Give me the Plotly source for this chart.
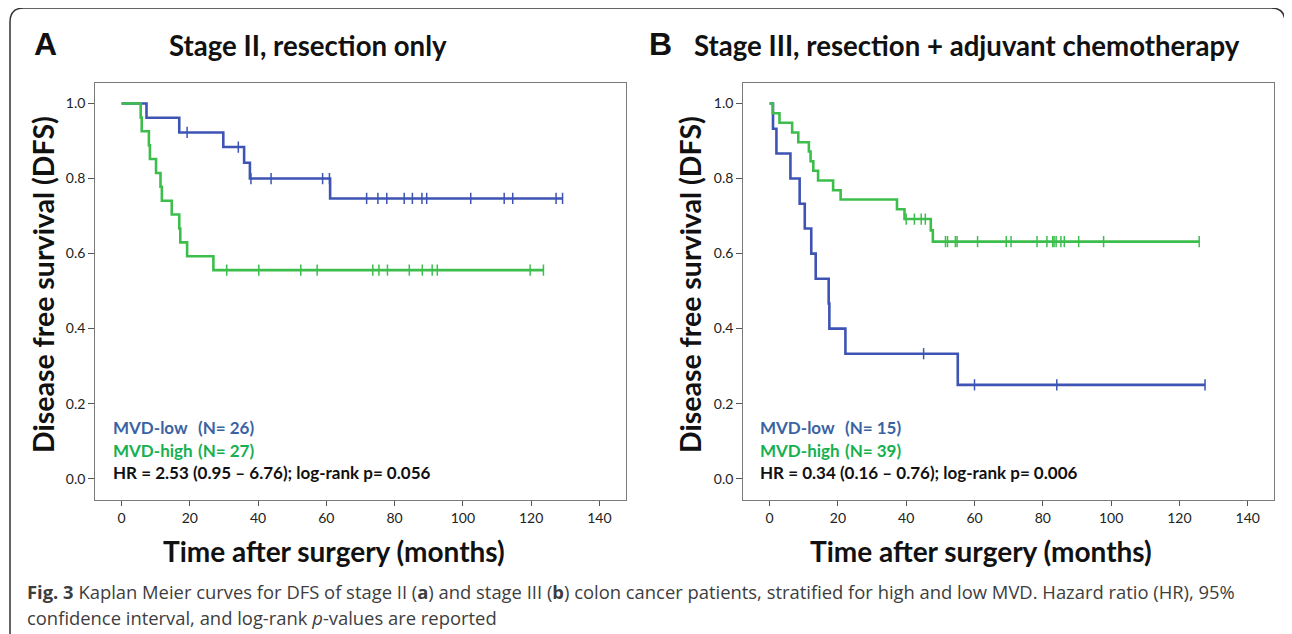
import numpy as np
import plotly.graph_objects as go

# page has an 8px body margin; figure is sized to fit inside the window
OFF = 8
W, H = 1280, 626

# ---------------- data ----------------
# Panel A: Stage II, resection only
A_low_t = [0, 7.3, 16.9, 29.8, 35.9, 37.6, 61.1, 129.2]
A_low_s = [1.0, 0.962, 0.923, 0.884, 0.842, 0.800, 0.747, 0.747]
A_low_cens = [19.2, 34.2, 37.9, 43.8, 58.9, 60.9, 71.8, 75.1, 77.7, 82.8, 85.2,
              88.0, 89.4, 102.3, 112.1, 114.6, 127.3, 129.2]

A_high_t = [0, 5.6, 5.9, 8.0, 8.3, 10.1, 11.4, 11.8, 14.7, 16.9, 17.2, 19.2, 26.9, 123.6]
A_high_s = [1.0, 0.963, 0.926, 0.889, 0.852, 0.815, 0.778, 0.741, 0.704, 0.667,
            0.630, 0.593, 0.556, 0.556]
A_high_cens = [30.8, 40.2, 52.5, 57.3, 73.6, 75.4, 77.9, 84.3, 88.1, 91.0, 92.5,
               119.7, 123.6]

# Panel B: Stage III, resection + adjuvant chemotherapy
B_low_t = [0, 1.0, 2.0, 6.1, 8.8, 10.3, 12.2, 13.5, 17.3, 17.5, 22.2, 55.1, 127.5]
B_low_s = [1.0, 0.933, 0.867, 0.800, 0.733, 0.667, 0.600, 0.533, 0.467, 0.400,
           0.333, 0.250, 0.250]
B_low_cens = [45.1, 60.0, 84.1, 127.5]

B_high_t = [0, 0.9, 2.9, 6.6, 8.4, 11.5, 12.0, 12.8, 14.2, 18.6, 20.8, 37.3, 39.5,
            47.2, 47.8, 125.8]
B_high_s = [1.0, 0.974, 0.949, 0.923, 0.897, 0.872, 0.846, 0.821, 0.795, 0.769,
            0.744, 0.718, 0.692, 0.662, 0.632, 0.632]
B_high_cens = [40.0, 42.4, 44.4, 45.6, 51.5, 52.1, 54.4, 54.9, 60.9, 69.3, 70.7,
               78.3, 81.2, 82.9, 83.3, 83.9, 85.3, 86.3, 90.5, 97.8, 125.8]

x_ticks = [0, 20, 40, 60, 80, 100, 120, 140]
y_ticks = [0.0, 0.2, 0.4, 0.6, 0.8, 1.0]

titles = ["Stage II, resection only", "Stage III, resection + adjuvant chemotherapy"]
letters = ["A", "B"]
legend_low = [("MVD-low", "(N= 26)"), ("MVD-low", "(N= 15)")]
legend_high = [("MVD-high", "(N= 27)"), ("MVD-high", "(N= 39)")]
hr_text = ["HR = 2.53 (0.95 – 6.76); log-rank p= 0.056",
           "HR = 0.34 (0.16 – 0.76); log-rank p= 0.006"]
caption1 = ("<b>Fig. 3</b> Kaplan Meier curves for DFS of stage II (<b>a</b>) and stage III "
            "(<b>b</b>) colon cancer patients, stratified for high and low MVD. Hazard ratio (HR), 95%")
caption2 = "confidence interval, and log-rank <i>p</i>-values are reported"

# ---------------- styling ----------------
BLUE = "#3E54B4"
GREEN = "#3DBE4C"
BLUE_TXT = "#3B63A3"
GREEN_TXT = "#16B050"
FONT = "Lato, Carlito, Calibri, sans-serif"


def fx(px):
    return (px - OFF) / W


def fy(py):
    return 1 - (py - OFF) / H


def step_eval(t, s, q):
    t = np.asarray(t)
    s = np.asarray(s)
    idx = np.searchsorted(t, np.asarray(q), side="right") - 1
    return s[np.clip(idx, 0, len(s) - 1)]


fig = go.Figure()

panels = [
    dict(xa="x", ya="y", curves=[(A_low_t, A_low_s, A_low_cens, BLUE),
                                 (A_high_t, A_high_s, A_high_cens, GREEN)]),
    dict(xa="x2", ya="y2", curves=[(B_low_t, B_low_s, B_low_cens, BLUE),
                                   (B_high_t, B_high_s, B_high_cens, GREEN)]),
]

for p in panels:
    for t, s, c, col in p["curves"]:
        fig.add_trace(go.Scatter(x=t, y=s, mode="lines", line_shape="hv",
                                 line=dict(color=col, width=2.6),
                                 xaxis=p["xa"], yaxis=p["ya"], showlegend=False,
                                 hoverinfo="skip"))
        fig.add_trace(go.Scatter(x=c, y=step_eval(t, s, c), mode="markers",
                                 marker=dict(symbol="line-ns", size=8,
                                             line=dict(color=col, width=1.5)),
                                 xaxis=p["xa"], yaxis=p["ya"], showlegend=False,
                                 hoverinfo="skip"))

# plot box pixel geometry (window pixels)
boxes = [(95.3, 625.7), (743.3, 1274.0)]
box_top, box_bot = 83.3, 500.0
xr = [-7.7, 147.7]
yr = [-0.057, 1.054]

axis_common = dict(showline=True, mirror=True, linecolor="#7a7a7a", linewidth=1.2,
                   ticks="outside", ticklen=5, tickwidth=1, tickcolor="#555",
                   showgrid=False, zeroline=False,
                   tickfont=dict(family=FONT, size=14, color="#222"))

layout_axes = {}
for i, (l, r) in enumerate(boxes):
    sfx = "" if i == 0 else str(i + 1)
    layout_axes["xaxis" + sfx] = dict(axis_common, domain=[fx(l), fx(r)], range=xr,
                                      tickvals=x_ticks, anchor="y" + sfx)
    layout_axes["yaxis" + sfx] = dict(axis_common, domain=[fy(box_bot), fy(box_top)],
                                      range=yr, tickvals=y_ticks, tickformat=".1f",
                                      anchor="x" + sfx, ticklen=6)

annotations = []


def ann(text, x, y, size, color="#111", xanchor="center", family=FONT, angle=0):
    annotations.append(dict(text=text, x=fx(x), y=fy(y), xref="paper", yref="paper",
                            showarrow=False, xanchor=xanchor, yanchor="middle",
                            textangle=angle,
                            font=dict(family=family, size=size, color=color)))


letter_x = [45, 660]
title_x = [308, 967]
ytitle_x = [43, 690]
xtitle_x = [334, 981]
legend_x = [111, 758]
legend_n_dx = 84.5

for i in range(2):
    ann("<b>" + letters[i] + "</b>", letter_x[i], 44, 32,
        family="Liberation Sans, Arial, sans-serif")
    ann("<b>" + titles[i] + "</b>", title_x[i], 45, 27.6)
    ann("<b>Disease free survival (DFS)</b>", ytitle_x[i], 285, 28.5, angle=-90)
    ann("<b>Time after surgery (months)</b>", xtitle_x[i], 551, 28)
    ann("<b>" + legend_low[i][0] + "</b>", legend_x[i], 427, 17, BLUE_TXT, "left")
    ann("<b>" + legend_low[i][1] + "</b>", legend_x[i] + legend_n_dx, 427, 17, BLUE_TXT, "left")
    ann("<b>" + legend_high[i][0] + "</b>", legend_x[i], 450, 17, GREEN_TXT, "left")
    ann("<b>" + legend_high[i][1] + "</b>", legend_x[i] + legend_n_dx, 450, 17, GREEN_TXT, "left")
    ann("<b>" + hr_text[i] + "</b>", legend_x[i], 472, 17, "#111", "left")

CAP_FONT = "Open Sans, Noto Sans, sans-serif"
ann(caption1, 25, 591, 18.4, "#3d3d3d", "left", family=CAP_FONT)
ann(caption2, 25, 617, 18.4, "#3d3d3d", "left", family=CAP_FONT)

frame_path = (f"M {fx(10)},{fy(660)} L {fx(10)},{fy(22)} Q {fx(10)},{fy(8)} {fx(24)},{fy(8)} "
              f"L {fx(1271)},{fy(8)} Q {fx(1285)},{fy(8)} {fx(1285)},{fy(22)} L {fx(1285)},{fy(660)}")

fig.update_layout(
    width=W, height=H,
    margin=dict(l=0, r=0, t=0, b=0),
    paper_bgcolor="white", plot_bgcolor="white",
    annotations=annotations,
    shapes=[dict(type="path", path=frame_path, xref="paper", yref="paper",
                 line=dict(color="#333", width=1.5), layer="below")],
    **layout_axes,
)

fig.write_html("out.html")
